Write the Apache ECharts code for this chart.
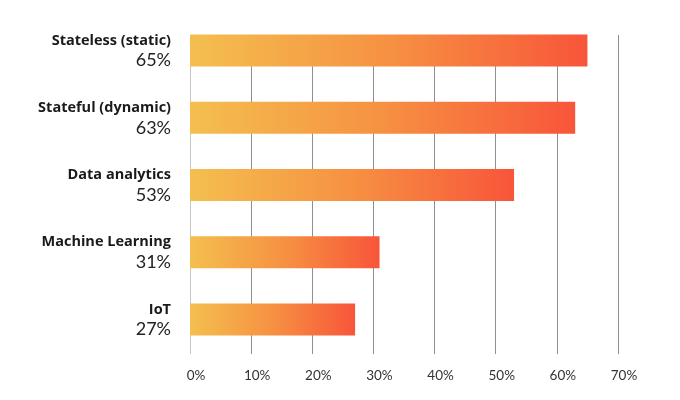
<!DOCTYPE html>
<html>
<head>
<meta charset="utf-8">
<script src="https://cdn.jsdelivr.net/npm/echarts@6/dist/echarts.min.js"></script>
<style>html,body{margin:0;padding:0;background:#fff;}#c{width:680px;height:400px;}</style>
</head>
<body>
<div id="c"></div>
<script>
const categories = ['Stateless (static)', 'Stateful (dynamic)', 'Data analytics', 'Machine Learning', 'IoT'];
const values = [65, 63, 53, 31, 27];
const tickLabels = ['0%', '10%', '20%', '30%', '40%', '50%', '60%', '70%'];

const chart = echarts.init(document.getElementById('c'));
const grad = new echarts.graphic.LinearGradient(0, 0, 1, 0, [
  {offset: 0, color: '#F4BF4F'},
  {offset: 0.5, color: '#F69142'},
  {offset: 1, color: '#F8553A'}
]);
chart.setOption({
  animation: false,
  grid: [
    {left: 190, right: 62, top: 17, bottom: 47},
    {left: 190, right: 62, top: 35, bottom: 46}
  ],
  xAxis: [
    {gridIndex: 0, type: 'value', min: 0, max: 70, show: false},
    {gridIndex: 1, type: 'value', min: 0, max: 70, interval: 10,
     axisLine: {show: false}, axisTick: {show: false},
     splitLine: {show: true, lineStyle: {color: ['#c6c6c6', '#8f8f8f', '#8f8f8f', '#8f8f8f', '#8f8f8f', '#8f8f8f', '#8f8f8f', '#8f8f8f'], width: 1}},
     axisLabel: {margin: 15, color: '#333', fontFamily: 'Lato', fontSize: 13.5, padding: [0, 0, 0, 12],
       formatter: function (v) { return tickLabels[Math.round(v / 10)]; }}
    }
  ],
  yAxis: [
    {gridIndex: 0, type: 'category', data: categories, inverse: true,
     axisLine: {show: false}, axisTick: {show: false}, splitLine: {show: false},
     axisLabel: {margin: 19, align: 'right',
       formatter: function (v, i) { return '{n|' + v + '}\n{p|' + values[i] + '%}'; },
       rich: {
         n: {fontFamily: 'Open Sans', fontWeight: 'bold', fontSize: 14.5, color: '#1a1a1a', lineHeight: 20, align: 'right'},
         p: {fontFamily: 'Lato', fontWeight: 'normal', fontSize: 18, color: '#222', lineHeight: 20, align: 'right'}
       }}
    },
    {gridIndex: 1, type: 'value', show: false, min: 0, max: 1}
  ],
  series: [
    {type: 'bar', xAxisIndex: 0, yAxisIndex: 0, data: values, barWidth: 32,
     itemStyle: {color: grad}},
    {type: 'scatter', xAxisIndex: 1, yAxisIndex: 1, data: []}
  ]
});
</script>
</body>
</html>
